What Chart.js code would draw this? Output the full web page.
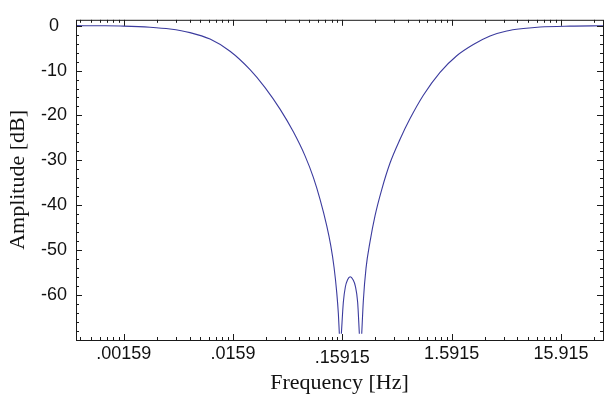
<!DOCTYPE html>
<html>
<head>
<meta charset="utf-8">
<script src="https://cdn.jsdelivr.net/npm/chart.js@4.4.1/dist/chart.umd.min.js"></script>
<style>
    html, body { margin: 0; padding: 0; background: #fff; }
</style>
</head>
<body>
<canvas id="grafico" width="604" height="396"></canvas>
<script>
// Datos (frecuencia en Hz, amplitud en dB); null = hueco en los ceros
const frequency = [0.000582, 0.000966, 0.00159, 0.00277, 0.00422, 0.00643, 0.0098, 0.01494, 0.02277, 0.03124,
    0.04283, 0.05669, 0.07253, 0.0864, 0.0995, 0.1146, 0.1247, 0.1336, 0.1415, 0.1463,
    0.1494, 0.1526, 0.1559, 0.1625, 0.1695, 0.1776, 0.1879, 0.1994, 0.2092, 0.2197,
    0.2277, 0.2336, 0.2394, 0.2476, 0.2621, 0.2852, 0.317, 0.3649, 0.4346, 0.5366,
    0.6627, 0.8767, 1.246, 1.772, 2.513, 3.573, 5.081, 7.207, 10.25, 19.28, 38.6];
const amplitude = [0, -0.03, -0.1, -0.35, -0.75, -1.55, -3.0, -5.7, -9.8, -13.8,
    -18.6, -23.65, -29.0, -33.8, -38.7, -44.6, -49.0, -53.8, -59.5, -64.1,
    -68.6, null, -68.6, -61.6, -58.2, -56.6, -55.9, -56.6, -58.0, -61.6,
    -68.6, null, -68.6, -61.3, -54.0, -48.1, -42.3, -36.5, -30.6, -25.3,
    -20.7, -15.5, -10.4, -6.7, -4.2, -2.3, -1.2, -0.65, -0.3, -0.1, -0.03];

const xTickValues = [0.0015915, 0.015915, 0.15915, 1.5915, 15.915];
const xTickLabels = ['.00159', '.0159', '.15915', '1.5915', '15.915'];
const yTickValues = [0, -10, -20, -30, -40, -50, -60];
const yTickLabels = ['0', '-10', '-20', '-30', '-40', '-50', '-60'];

const xMin = 0.000582, xMax = 38.6;
const yMin = -70, yMax = 1.3;

// Marcas menores: 2..9 veces cada década, y cada 2 dB
const xMinor = [];
[0.00015915, ...xTickValues].forEach(b => {
    for (let m = 2; m <= 9; m++) {
        const v = b * m;
        if (v > xMin && v < xMax) xMinor.push(v);
    }
});
const yMinor = [];
for (let v = yMin; v <= 0; v += 2) {
    if (v % 10 !== 0) yMinor.push(v);
}

const tickFont = { family: '"Liberation Sans", Arial, sans-serif', size: 18 };
const titleFont = { family: '"Liberation Serif", "DejaVu Serif", serif', size: 22 };

// Marco y marcas hacia dentro en los cuatro lados
const framePlugin = {
    id: 'frame',
    afterDatasetsDraw(chart) {
        const { ctx, chartArea: a, scales: { x, y } } = chart;
        ctx.save();
        ctx.strokeStyle = '#1a1a1a';
        ctx.lineWidth = 1;
        ctx.strokeRect(a.left + 0.5, a.top + 0.5, a.right - a.left, a.bottom - a.top);
        const seg = (x1, y1, x2, y2) => {
            ctx.beginPath();
            ctx.moveTo(x1, y1);
            ctx.lineTo(x2, y2);
            ctx.stroke();
        };
        const xMarks = (vals, len) => vals.forEach(v => {
            const px = Math.round(x.getPixelForValue(v)) + 0.5;
            seg(px, a.bottom, px, a.bottom - len);
            seg(px, a.top, px, a.top + len);
        });
        const yMarks = (vals, len) => vals.forEach(v => {
            const py = Math.round(y.getPixelForValue(v)) + 0.5;
            seg(a.left, py, a.left + len, py);
            seg(a.right, py, a.right - len, py);
        });
        xMarks(xMinor, 3);
        xMarks(xTickValues, 6);
        yMarks(yMinor, 3);
        yMarks(yTickValues, 6);
        ctx.restore();
    }
};

new Chart(document.getElementById('grafico'), {
    type: 'line',
    data: {
        labels: frequency,
        datasets: [{
            data: frequency.map((f, i) => ({ x: f, y: amplitude[i] })),
            borderColor: '#3b3b9e',
            borderWidth: 1.1,
            pointRadius: 0,
            fill: false,
            spanGaps: false,
            cubicInterpolationMode: 'monotone'
        }]
    },
    options: {
        responsive: false,
        animation: false,
        devicePixelRatio: 1,
        layout: { padding: { top: 14, right: 1, left: 0, bottom: 0 } },
        plugins: { legend: { display: false }, tooltip: { enabled: false } },
        scales: {
            x: {
                type: 'logarithmic',
                min: xMin,
                max: xMax,
                grid: { display: false, drawTicks: false },
                border: { display: false },
                afterBuildTicks: s => { s.ticks = xTickValues.map(v => ({ value: v })); },
                afterFit: s => { s.height = 56; },
                ticks: {
                    color: '#111',
                    padding: 3,
                    maxRotation: 0,
                    autoSkip: false,
                    font: ctx => ctx.index === 2 ? { ...tickFont, lineHeight: 1.65 } : tickFont,
                    callback: (v, i) => xTickLabels[i]
                },
                title: {
                    display: true,
                    text: 'Frequency [Hz]',
                    color: '#111',
                    font: titleFont,
                    padding: { top: 0, bottom: 0 }
                }
            },
            y: {
                min: yMin,
                max: yMax,
                grid: { display: false, drawTicks: false },
                border: { display: false },
                afterBuildTicks: s => { s.ticks = yTickValues.map(v => ({ value: v })); },
                afterFit: s => { s.width = 76; },
                ticks: {
                    color: '#111',
                    padding: 9,
                    crossAlign: 'center',
                    font: tickFont,
                    callback: (v, i) => yTickLabels[i]
                },
                title: {
                    display: true,
                    text: 'Amplitude [dB]',
                    color: '#111',
                    font: titleFont,
                    padding: { top: 5, bottom: 0 }
                }
            }
        }
    },
    plugins: [framePlugin]
});
</script>
</body>
</html>
